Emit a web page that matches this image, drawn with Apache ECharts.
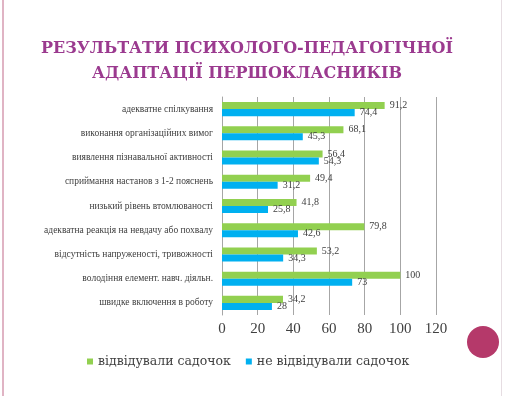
<!DOCTYPE html>
<html><head><meta charset="utf-8">
<script src="https://cdn.jsdelivr.net/npm/echarts@6/dist/echarts.min.js"></script>
<style>html,body{margin:0;padding:0;background:#fff}#c{width:506px;height:396px}</style>
</head><body><div id="c"></div>
<script>
const categories = [
  'адекватне спілкування',
  'виконання організаційних вимог',
  'виявлення пізнавальної активності',
  'сприймання настанов з 1-2 пояснень',
  'низький рівень втомлюваності',
  'адекватна реакція на невдачу або похвалу',
  'відсутність напруженості, тривожності',
  'володіння елемент. навч. діяльн.',
  'швидке включення в роботу'
];
const attended = [91.2, 68.1, 56.4, 49.4, 41.8, 79.8, 53.2, 100, 34.2];
const notAttended = [74.4, 45.3, 54.3, 31.2, 25.8, 42.6, 34.3, 73, 28];
const seriesNames = ['відвідували садочок', 'не відвідували садочок'];
const titleText = 'РЕЗУЛЬТАТИ ПСИХОЛОГО-ПЕДАГОГІЧНОЇ\nАДАПТАЦІЇ ПЕРШОКЛАСНИКІВ';

const lib = 'Liberation Serif';
const dvs = 'DejaVu Serif';
const chart = echarts.init(document.getElementById('c'));
const fmt = p => String(p.value).replace('.', ',');
chart.setOption({
  animation: false,
  backgroundColor: '#fff',
  textStyle: { fontFamily: dvs },
  title: {
    text: titleText, left: 242, top: 31, textAlign: 'center',
    textStyle: { fontFamily: dvs, fontWeight: 'bold', fontSize: 16, color: '#9b3a8f', lineHeight: 25 }
  },
  graphic: [
    { type: 'rect', shape: { x: 2, y: 0, width: 2, height: 396 }, style: { fill: '#e0b4c4' } },
    { type: 'rect', shape: { x: 501, y: 0, width: 1, height: 396 }, style: { fill: '#e6dde2' } },
    { type: 'circle', shape: { cx: 483, cy: 342, r: 16 }, style: { fill: '#b5396a' } }
  ],
  legend: {
    data: seriesNames, top: 350, left: 82, itemWidth: 6, itemHeight: 6, itemGap: 15,
    icon: 'rect',
    formatter: name => '{t|' + name + '}',
    textStyle: { fontFamily: dvs, fontSize: 12.5, color: '#404040',
      rich: { t: { fontFamily: dvs, fontSize: 12.5, color: '#404040' } } }
  },
  grid: { left: 222, right: 70, top: 97, bottom: 81 },
  xAxis: {
    type: 'value', min: 0, max: 120, interval: 20,
    axisLine: { show: false }, axisTick: { show: false },
    splitLine: { lineStyle: { color: '#a6a6a6', width: 1 } },
    axisLabel: { fontFamily: lib, fontSize: 15, color: '#404040', margin: 7 }
  },
  yAxis: {
    type: 'category', data: categories, inverse: true,
    axisLine: { lineStyle: { color: '#a6a6a6' } },
    axisTick: { length: 4, lineStyle: { color: '#a6a6a6' } },
    axisLabel: { fontFamily: lib, fontSize: 9.5, color: '#404040', margin: 9 }
  },
  series: [
    { name: seriesNames[0], type: 'bar', data: attended, itemStyle: { color: '#92d050' },
      barGap: '0%', barCategoryGap: '42%',
      label: { show: true, position: 'right', formatter: fmt, fontFamily: lib, fontSize: 10, color: '#404040', distance: 5 } },
    { name: seriesNames[1], type: 'bar', data: notAttended, itemStyle: { color: '#00b0f0' },
      barGap: '0%', barCategoryGap: '42%',
      label: { show: true, position: 'right', formatter: fmt, fontFamily: lib, fontSize: 10, color: '#404040', distance: 5 } }
  ]
});
</script></body></html>
